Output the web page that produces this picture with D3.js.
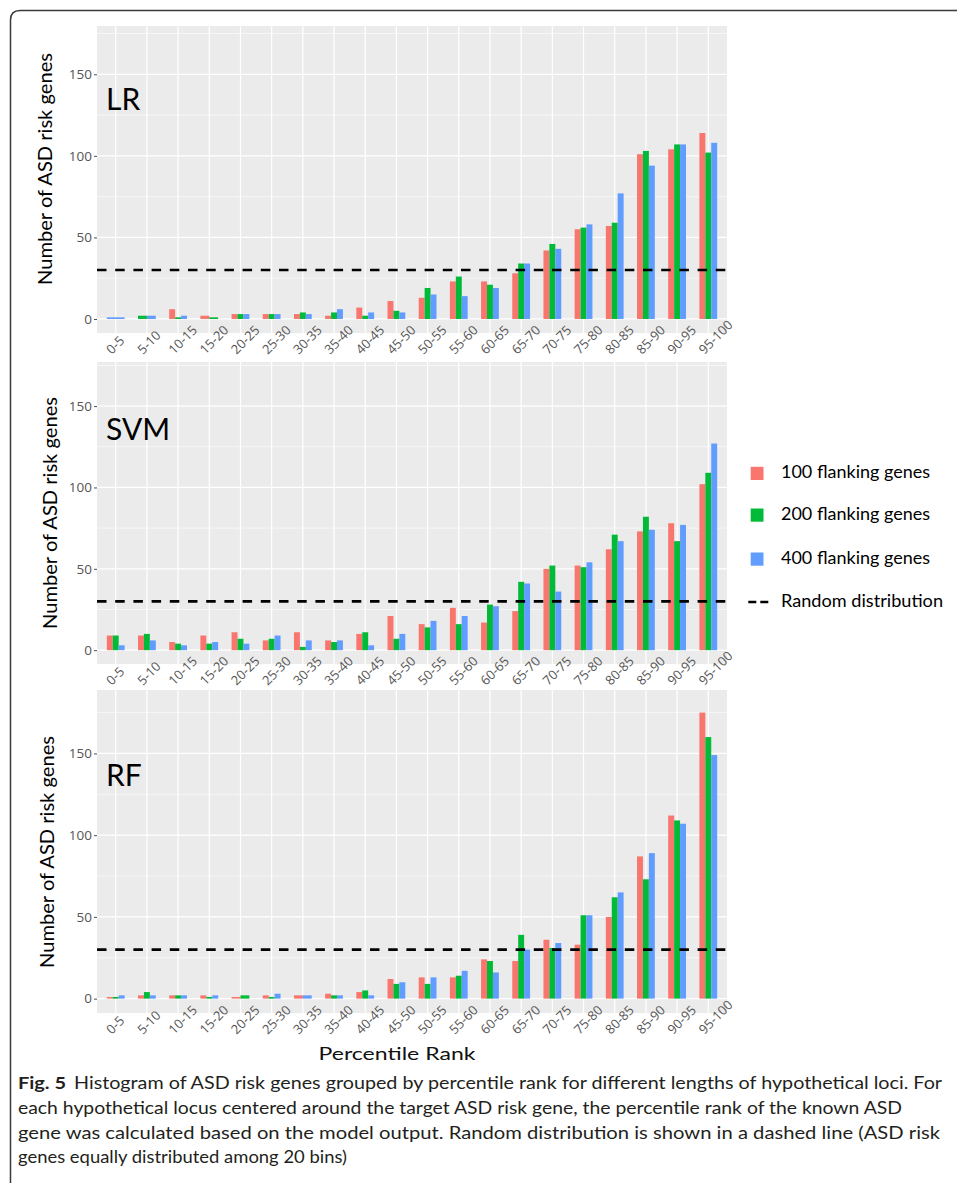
<!DOCTYPE html>
<html>
<head>
    <title>ASD risk genes by percentile rank</title>
    <script src="https://d3js.org/d3.v7.min.js"></script>
    <style>
        body { margin: 0; background: #fff; }
        svg text { font-family: Lato, "Open Sans", sans-serif; }
    </style>
</head>
<body>
    <div id="chart"></div>
    <script>
        // Data (null = no bar drawn for that bin)
        const categories = ["0-5", "5-10", "10-15", "15-20", "20-25", "25-30", "30-35", "35-40", "40-45", "45-50",
            "50-55", "55-60", "60-65", "65-70", "70-75", "75-80", "80-85", "85-90", "90-95", "95-100"];
        const seriesNames = ["100 flanking genes", "200 flanking genes", "400 flanking genes"];
        const seriesColors = ["#F8766D", "#00BA38", "#619CFF"];

        const lr100 = [null, null, 6, 2, 3, 3, 3, 2, 7, 11, 13, 23, 23, 28, 42, 55, 57, 101, 104, 114];
        const lr200 = [null, 2, 1, 1, 3, 3, 4, 4, 2, 5, 19, 26, 21, 34, 46, 56, 59, 103, 107, 102];
        const lr400 = [1, 2, 2, null, 3, 3, 3, 6, 4, 4, 15, 14, 19, 34, 43, 58, 77, 94, 107, 108];

        const svm100 = [9, 9, 5, 9, 11, 6, 11, 6, 10, 21, 16, 26, 17, 24, 50, 52, 62, 73, 78, 102];
        const svm200 = [9, 10, 4, 4, 7, 7, 2, 5, 11, 7, 14, 16, 28, 42, 52, 51, 71, 82, 67, 109];
        const svm400 = [3, 6, 3, 5, 4, 9, 6, 6, 3, 10, 18, 21, 27, 41, 36, 54, 67, 74, 77, 127];

        const rf100 = [1, 2, 2, 2, 1, 2, 2, 3, 4, 12, 13, 13, 24, 23, 36, 33, 50, 87, 112, 175];
        const rf200 = [1, 4, 2, 1, 2, 1, null, 2, 5, 9, 9, 14, 23, 39, 31, 51, 62, 73, 109, 160];
        const rf400 = [2, 2, 2, 2, null, 3, 2, 2, 2, 10, 13, 17, 16, 30, 34, 51, 65, 89, 107, 149];

        const randomLevel = 30;
        const yTicks = [0, 50, 100, 150];
        const yMinorTicks = [25, 75, 125, 175];

        const captionLines = [
            "each hypothetical locus centered around the target ASD risk gene, the percentile rank of the known ASD",
            "gene was calculated based on the model output. Random distribution is shown in a dashed line (ASD risk",
            "genes equally distributed among 20 bins)"
        ];

        // Layout
        const width = 957, height = 1183;
        const plotLeft = 97, plotRight = 727;
        const groupFrac = 0.57;

        const panels = [
            { name: "LR", series: [lr100, lr200, lr400], top: 26, bottom: 333, domain: [-8.6, 179.6], titleY: 169, titleX: 45, labelY: 110 },
            { name: "SVM", series: [svm100, svm200, svm400], top: 362, bottom: 664, domain: [-8.5, 177.1], titleY: 513, titleX: 50, labelY: 440 },
            { name: "RF", series: [rf100, rf200, rf400], top: 690, bottom: 1013, domain: [-8.8, 188.8], titleY: 852, titleX: 47, labelY: 786 }
        ];

        const svg = d3.select("#chart")
            .append("svg")
            .attr("width", width)
            .attr("height", height);

        // Frame around figure
        svg.append("path")
            .attr("d", "M10.5," + height + " V20 Q10.5,10.5 20,10.5 H" + width)
            .attr("fill", "none")
            .attr("stroke", "#3a3a3a")
            .attr("stroke-width", 1.5);

        const x = d3.scalePoint()
            .domain(categories)
            .range([plotLeft, plotRight])
            .padding(0.6);
        const groupWidth = x.step() * groupFrac;

        panels.forEach(function(p) {
            const y = d3.scaleLinear().domain(p.domain).range([p.bottom, p.top]);
            const g = svg.append("g");

            // Panel background and grid
            g.append("rect")
                .attr("x", plotLeft).attr("y", p.top)
                .attr("width", plotRight - plotLeft).attr("height", p.bottom - p.top)
                .attr("fill", "#EBEBEB");

            g.selectAll(".minor").data(yMinorTicks.filter(t => y(t) > p.top)).enter()
                .append("line")
                .attr("x1", plotLeft).attr("x2", plotRight)
                .attr("y1", d => y(d)).attr("y2", d => y(d))
                .attr("stroke", "#fff").attr("stroke-width", 0.6);

            g.selectAll(".major").data(yTicks).enter()
                .append("line")
                .attr("x1", plotLeft).attr("x2", plotRight)
                .attr("y1", d => y(d)).attr("y2", d => y(d))
                .attr("stroke", "#fff").attr("stroke-width", 1.2);

            g.selectAll(".vgrid").data(categories).enter()
                .append("line")
                .attr("x1", d => x(d)).attr("x2", d => x(d))
                .attr("y1", p.top).attr("y2", p.bottom)
                .attr("stroke", "#fff").attr("stroke-width", 1.2);

            // Bars: dodge among the series present in each bin
            const bars = [];
            categories.forEach(function(c, i) {
                const present = [];
                p.series.forEach(function(s, k) {
                    if (s[i] !== null) present.push({ k: k, v: s[i] });
                });
                const w = groupWidth / present.length;
                present.forEach(function(b, j) {
                    bars.push({ x: x(c) - groupWidth / 2 + j * w, w: w, v: b.v, k: b.k });
                });
            });
            g.selectAll(".bar").data(bars).enter()
                .append("rect")
                .attr("x", d => d.x)
                .attr("width", d => d.w)
                .attr("y", d => y(d.v))
                .attr("height", d => y(0) - y(d.v))
                .attr("fill", d => seriesColors[d.k]);

            // Random distribution line
            g.append("line")
                .attr("x1", plotLeft).attr("x2", plotRight)
                .attr("y1", y(randomLevel)).attr("y2", y(randomLevel))
                .attr("stroke", "#000")
                .attr("stroke-width", 2.6)
                .attr("stroke-dasharray", "9.5,8.7");

            // Y axis
            const yAxis = g.append("g")
                .attr("transform", "translate(" + plotLeft + ",0)")
                .call(d3.axisLeft(y).tickValues(yTicks).tickSize(3).tickPadding(2));
            yAxis.select(".domain").remove();
            yAxis.selectAll(".tick line").attr("stroke", "#4D4D4D");
            yAxis.selectAll(".tick text")
                .attr("fill", "#555")
                .style("font-family", "'Open Sans', sans-serif")
                .style("font-size", "13.5px");

            // X tick labels
            g.selectAll(".xlab").data(categories).enter()
                .append("text")
                .attr("transform", d => "translate(" + (x(d) - 4) + "," + (p.bottom + 22) + ") rotate(-45)")
                .attr("text-anchor", "start")
                .attr("fill", "#555")
                .style("font-family", "'Open Sans', sans-serif")
                .style("font-size", "13px")
                .text(d => d);

            // Y title
            g.append("text")
                .attr("transform", "translate(" + (p.titleX + 7) + "," + p.titleY + ") rotate(-90)")
                .attr("text-anchor", "middle")
                .attr("fill", "#000")
                .attr("textLength", 232)
                .attr("lengthAdjust", "spacingAndGlyphs")
                .style("font-size", "20px")
                .text("Number of ASD risk genes");

            // Panel label
            g.append("text")
                .attr("x", 106).attr("y", p.labelY)
                .attr("fill", "#000")
                .style("font-size", "30px")
                .text(p.name);
        });

        // Legend
        const legend = svg.append("g");
        const legendY = [473.3, 515, 559];
        seriesNames.forEach(function(n, k) {
            legend.append("rect")
                .attr("x", 750.7).attr("y", legendY[k] - 6.5)
                .attr("width", 12.8).attr("height", 13.2)
                .attr("fill", seriesColors[k]);
            legend.append("text")
                .attr("x", 781).attr("y", legendY[k] + 5)
                .attr("fill", "#000")
                .attr("textLength", 149)
                .attr("lengthAdjust", "spacingAndGlyphs")
                .style("font-size", "17px")
                .text(n);
        });
        legend.append("line")
            .attr("x1", 748.3).attr("x2", 768.3)
            .attr("y1", 602).attr("y2", 602)
            .attr("stroke", "#000").attr("stroke-width", 2.5)
            .attr("stroke-dasharray", "8,4");
        legend.append("text")
            .attr("x", 781).attr("y", 602 + 5)
            .attr("fill", "#000")
            .attr("textLength", 162)
            .attr("lengthAdjust", "spacingAndGlyphs")
            .style("font-size", "17px")
            .text("Random distribution");

        // X title
        svg.append("text")
            .attr("x", 397).attr("y", 1060)
            .attr("text-anchor", "middle")
            .attr("fill", "#111")
            .attr("textLength", 157)
            .attr("lengthAdjust", "spacingAndGlyphs")
            .style("font-size", "18px")
            .text("Percentile Rank");

        // Caption
        const capFont = "'Liberation Sans Narrow', 'DejaVu Sans Condensed', 'Open Sans', sans-serif";
        const cap = svg.append("g").style("font-family", capFont).style("font-size", "17px").attr("fill", "#231f20");
        cap.append("text")
            .attr("x", 18).attr("y", 1089)
            .attr("textLength", 48).attr("lengthAdjust", "spacingAndGlyphs")
            .style("font-weight", "bold")
            .text("Fig. 5");
        cap.append("text")
            .attr("x", 74).attr("y", 1089)
            .attr("textLength", 868).attr("lengthAdjust", "spacingAndGlyphs")
            .text("Histogram of ASD risk genes grouped by percentile rank for different lengths of hypothetical loci. For");
        const capWidths = [884, 922, 329];
        captionLines.forEach(function(t, i) {
            cap.append("text")
                .attr("x", 18).attr("y", 1114 + i * 24.5)
                .attr("textLength", capWidths[i]).attr("lengthAdjust", "spacingAndGlyphs")
                .text(t);
        });
    </script>
</body>
</html>
